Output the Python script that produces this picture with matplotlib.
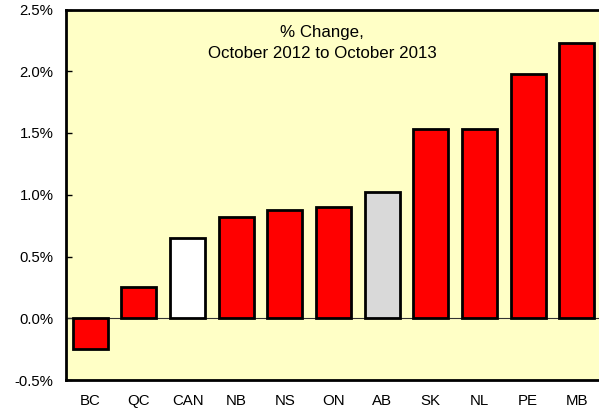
import matplotlib
matplotlib.use("Agg")
import matplotlib.pyplot as plt

plt.rcParams['font.family'] = ['Liberation Sans', 'DejaVu Sans']

provinces = ["BC", "QC", "CAN", "NB", "NS", "ON", "AB", "SK", "NL", "PE", "MB"]
pct_change = [-0.25, 0.25, 0.65, 0.82, 0.88, 0.90, 1.02, 1.53, 1.53, 1.98, 2.23]
bar_colors = ["#FF0000", "#FF0000", "#FFFFFF", "#FF0000", "#FF0000", "#FF0000",
              "#D9D9D9", "#FF0000", "#FF0000", "#FF0000", "#FF0000"]
y_ticks = [-0.5, 0.0, 0.5, 1.0, 1.5, 2.0, 2.5]
y_tick_labels = ["-0.5%", "0.0%", "0.5%", "1.0%", "1.5%", "2.0%", "2.5%"]

W, H = 599, 408
fig = plt.figure(figsize=(W / 100, H / 100), dpi=100)
left, right, top, bottom = 66, 601, 9.5, 380
ax = fig.add_axes([left / W, (H - bottom) / H, (right - left) / W, (bottom - top) / H])
ax.set_facecolor("#FFFFC6")

x = list(range(len(provinces)))
ax.bar(x, pct_change, width=0.72, color=bar_colors, edgecolor="black",
       linewidth=2, zorder=3)
ax.axhline(0, color="#333333", linewidth=0.8, zorder=2)

ax.set_xlim(-0.5, len(provinces) - 0.5)
ax.set_ylim(-0.5, 2.5)
ax.set_yticks(y_ticks)
ax.set_yticklabels(y_tick_labels)
ax.set_xticks(x)
ax.set_xticklabels(provinces)
ax.tick_params(axis="y", direction="in", length=4, width=1, labelsize=10.7, pad=9)
ax.tick_params(axis="x", length=0, labelsize=10.8, pad=10)

for side in ["left", "top", "bottom"]:
    ax.spines[side].set_linewidth(2)
    ax.spines[side].set_color("black")
ax.spines["right"].set_visible(False)

# two-line caption inside the plot area
fig.text(322 / W, 1 - 33 / H, "% Change,", ha="center", va="center", fontsize=12.2)
fig.text(322 / W, 1 - 53 / H, "October 2012 to October 2013", ha="center",
         va="center", fontsize=12.2)

fig.savefig("out.png", dpi=100)
